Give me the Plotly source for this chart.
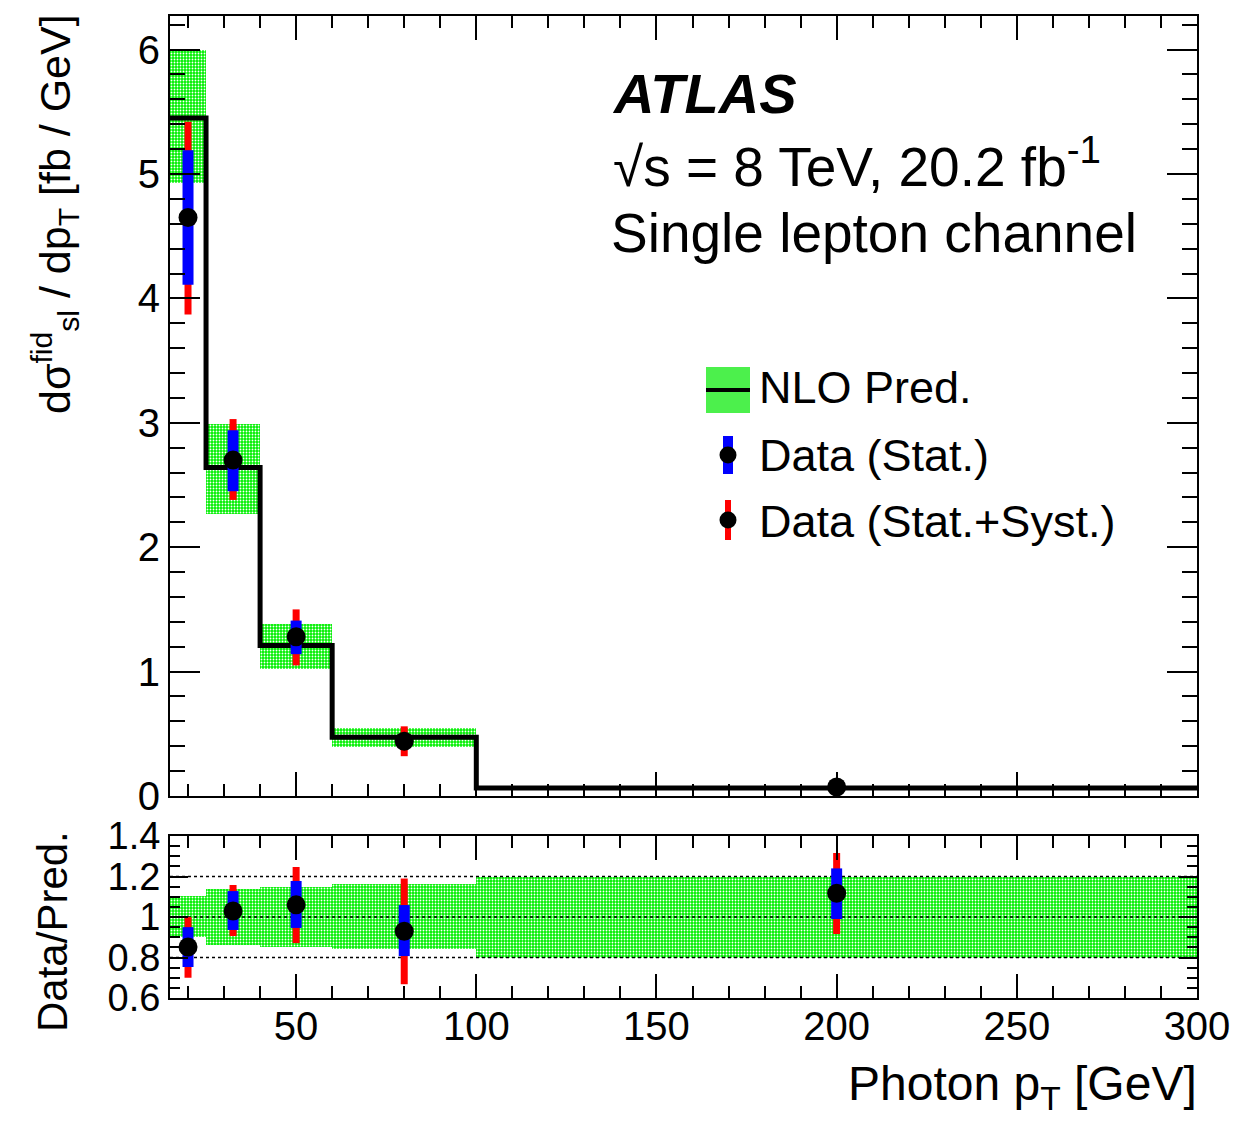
import plotly.graph_objects as go

# ---------------- data ----------------
bin_edges = [15, 25, 40, 60, 100, 300]
nlo = [5.45, 2.64, 1.21, 0.473, 0.064]
nlo_up = [6.00, 2.99, 1.38, 0.55, 0.077]
nlo_dn = [4.93, 2.27, 1.02, 0.39, 0.051]

data_x = [20, 32.5, 50, 80, 200]
data_y = [4.65, 2.70, 1.28, 0.44, 0.072]
stat_up = [5.19, 2.94, 1.41, 0.47, 0.079]
stat_dn = [4.11, 2.45, 1.14, 0.41, 0.065]
tot_up = [5.42, 3.03, 1.50, 0.56, 0.084]
tot_dn = [3.87, 2.38, 1.05, 0.32, 0.060]

ratio_y = [0.852, 1.03, 1.06, 0.93, 1.117]
ratio_stat_up = [0.95, 1.128, 1.178, 1.059, 1.24]
ratio_stat_dn = [0.753, 0.936, 0.946, 0.807, 0.99]
ratio_tot_up = [1.0, 1.158, 1.247, 1.19, 1.316]
ratio_tot_dn = [0.70, 0.906, 0.871, 0.668, 0.916]
ratio_band_up = [1.104, 1.138, 1.148, 1.163, 1.2]
ratio_band_dn = [0.901, 0.862, 0.852, 0.842, 0.8]
ratio_ref_lines = [0.8, 1.0, 1.2]

x_ticks = [50, 100, 150, 200, 250, 300]
y_ticks = [0, 1, 2, 3, 4, 5, 6]
r_ticks = [0.6, 0.8, 1.0, 1.2, 1.4]
r_tick_text = ["0.6", "0.8", "1", "1.2", "1.4"]

# ---------------- helpers ----------------
W, H = 1236, 1123
FONT = "Liberation Sans, Arial, Helvetica, sans-serif"


def px(x):
    return x / W


def py(y):
    return 1 - y / H


centers = [(a + b) / 2 for a, b in zip(bin_edges[:-1], bin_edges[1:])]
widths = [b - a for a, b in zip(bin_edges[:-1], bin_edges[1:])]

band_marker = dict(
    color="#00ee00",
    line=dict(width=0),
    pattern=dict(shape=".", fgcolor="white", bgcolor="#00f000", size=3, solidity=0.3, fillmode="replace"),
)

fig = go.Figure()

# ---------------- main panel ----------------
fig.add_trace(go.Bar(
    x=centers, y=[u - d for u, d in zip(nlo_up, nlo_dn)], base=nlo_dn, width=widths,
    marker=band_marker, xaxis="x", yaxis="y", showlegend=False, hoverinfo="skip"))

fig.add_trace(go.Scatter(
    x=bin_edges, y=nlo + [nlo[-1]], mode="lines", line=dict(color="black", width=5, shape="hv"),
    xaxis="x", yaxis="y", showlegend=False))

fig.add_trace(go.Scatter(
    x=data_x, y=data_y, mode="markers",
    marker=dict(size=1, color="rgba(0,0,0,0)"),
    error_y=dict(type="data", symmetric=False,
                 array=[u - v for u, v in zip(tot_up, data_y)],
                 arrayminus=[v - d for v, d in zip(data_y, tot_dn)],
                 color="red", thickness=7, width=0),
    xaxis="x", yaxis="y", showlegend=False))

fig.add_trace(go.Scatter(
    x=data_x, y=data_y, mode="markers",
    marker=dict(size=19, color="black"),
    error_y=dict(type="data", symmetric=False,
                 array=[u - v for u, v in zip(stat_up, data_y)],
                 arrayminus=[v - d for v, d in zip(data_y, stat_dn)],
                 color="blue", thickness=11, width=0),
    xaxis="x", yaxis="y", showlegend=False))

# ---------------- ratio panel ----------------
fig.add_trace(go.Bar(
    x=centers, y=[u - d for u, d in zip(ratio_band_up, ratio_band_dn)], base=ratio_band_dn, width=widths,
    marker=band_marker, xaxis="x2", yaxis="y2", showlegend=False, hoverinfo="skip"))

for v in ratio_ref_lines:
    fig.add_trace(go.Scatter(
        x=[bin_edges[0], bin_edges[-1]], y=[v, v], mode="lines",
        line=dict(color="black", width=1.5, dash="dot"),
        xaxis="x2", yaxis="y2", showlegend=False))

fig.add_trace(go.Scatter(
    x=data_x, y=ratio_y, mode="markers",
    marker=dict(size=1, color="rgba(0,0,0,0)"),
    error_y=dict(type="data", symmetric=False,
                 array=[u - v for u, v in zip(ratio_tot_up, ratio_y)],
                 arrayminus=[v - d for v, d in zip(ratio_y, ratio_tot_dn)],
                 color="red", thickness=7, width=0),
    xaxis="x2", yaxis="y2", showlegend=False))

fig.add_trace(go.Scatter(
    x=data_x, y=ratio_y, mode="markers",
    marker=dict(size=19, color="black"),
    error_y=dict(type="data", symmetric=False,
                 array=[u - v for u, v in zip(ratio_stat_up, ratio_y)],
                 arrayminus=[v - d for v, d in zip(ratio_y, ratio_stat_dn)],
                 color="blue", thickness=11, width=0),
    xaxis="x2", yaxis="y2", showlegend=False))

# ---------------- axes ----------------
axis_common = dict(showline=True, linecolor="black", linewidth=2, ticks="inside",
                   tickcolor="black", tickwidth=2, mirror="allticks", showgrid=False,
                   zeroline=False, automargin=False)
tick_font = dict(family=FONT, size=40, color="black")

dom_x = [px(170), px(1197)]
fig.update_layout(
    width=W, height=H, autosize=False,
    margin=dict(l=0, r=0, t=0, b=0, pad=0, autoexpand=False),
    paper_bgcolor="white", plot_bgcolor="white",
    barmode="overlay", bargap=0,
    font=dict(family=FONT, color="black"),
    xaxis=dict(domain=dom_x, anchor="y", range=[15, 300], tickvals=x_ticks, showticklabels=False,
               ticklen=24, minor=dict(dtick=10, tick0=0, ticklen=12, ticks="inside", tickcolor="black", tickwidth=2),
               tickfont=tick_font, **axis_common),
    yaxis=dict(domain=[py(796), py(16)], anchor="x", range=[0, 6.27], tickvals=y_ticks,
               ticklen=30, minor=dict(dtick=0.2, tick0=0, ticklen=15, ticks="inside", tickcolor="black", tickwidth=2),
               tickfont=tick_font, **axis_common),
    xaxis2=dict(domain=dom_x, anchor="y2", range=[15, 300], tickvals=x_ticks, matches="x",
                ticklen=24, minor=dict(dtick=10, tick0=0, ticklen=12, ticks="inside", tickcolor="black", tickwidth=2),
                tickfont=tick_font, ticklabelstandoff=-8, **axis_common),
    yaxis2=dict(domain=[py(998), py(836)], anchor="x2", range=[0.6, 1.4], tickvals=r_ticks, ticktext=r_tick_text,
                ticklen=18, minor=dict(dtick=0.05, tick0=0, ticklen=10, ticks="inside", tickcolor="black", tickwidth=2),
                tickfont=dict(family=FONT, size=38, color="black"), **axis_common),
)

# ---------------- text ----------------
anns = [
    dict(text="<b><i>ATLAS</i></b>", x=px(610), y=py(93), xanchor="left", yanchor="middle", size=56),
    dict(text="√s = 8 TeV, 20.2 fb<sup>-1</sup>", x=px(611), y=py(163), xanchor="left", yanchor="middle", size=55),
    dict(text="Single lepton channel", x=px(609), y=py(233), xanchor="left", yanchor="middle", size=55),
    dict(text="NLO Pred.", x=px(757), y=py(388), xanchor="left", yanchor="middle", size=45),
    dict(text="Data (Stat.)", x=px(757), y=py(456), xanchor="left", yanchor="middle", size=45),
    dict(text="Data (Stat.+Syst.)", x=px(757), y=py(521), xanchor="left", yanchor="middle", size=45),
    dict(text="Photon p<sub>T</sub> [GeV]", x=px(1199), y=py(1087), xanchor="right", yanchor="middle", size=48),
]
for a in anns:
    fig.add_annotation(text=a["text"], x=a["x"], y=a["y"], xref="paper", yref="paper",
                       xanchor=a["xanchor"], yanchor=a["yanchor"], showarrow=False,
                       font=dict(family=FONT, size=a["size"], color="black"))

fig.add_annotation(text="dσ<sup>fid</sup><sub>sl</sub> / dp<sub>T</sub> [fb / GeV]", textangle=-90,
                   x=px(55), y=py(12), xref="paper", yref="paper", xanchor="center", yanchor="top",
                   showarrow=False, font=dict(family=FONT, size=43, color="black"))
fig.add_annotation(text="Data/Pred.", textangle=-90,
                   x=px(52), y=py(932), xref="paper", yref="paper", xanchor="center", yanchor="middle",
                   showarrow=False, font=dict(family=FONT, size=42, color="black"))

# ---------------- legend symbols (paper coords) ----------------
shapes = [
    dict(type="rect", x0=px(706), x1=px(750), y0=py(413), y1=py(367), fillcolor="#4cf04c", line=dict(width=0)),
    dict(type="line", x0=px(706), x1=px(750), y0=py(390), y1=py(390), line=dict(color="black", width=4)),
    dict(type="rect", x0=px(723), x1=px(733), y0=py(474), y1=py(436), fillcolor="blue", line=dict(width=0)),
    dict(type="circle", x0=px(719.5), x1=px(736.5), y0=py(463.5), y1=py(446.5), fillcolor="black", line=dict(width=0)),
    dict(type="rect", x0=px(725), x1=px(731), y0=py(540), y1=py(500), fillcolor="red", line=dict(width=0)),
    dict(type="circle", x0=px(719.5), x1=px(736.5), y0=py(528.5), y1=py(511.5), fillcolor="black", line=dict(width=0)),
]
for s in shapes:
    fig.add_shape(xref="paper", yref="paper", layer="above", **s)

fig.write_html("out.html")
